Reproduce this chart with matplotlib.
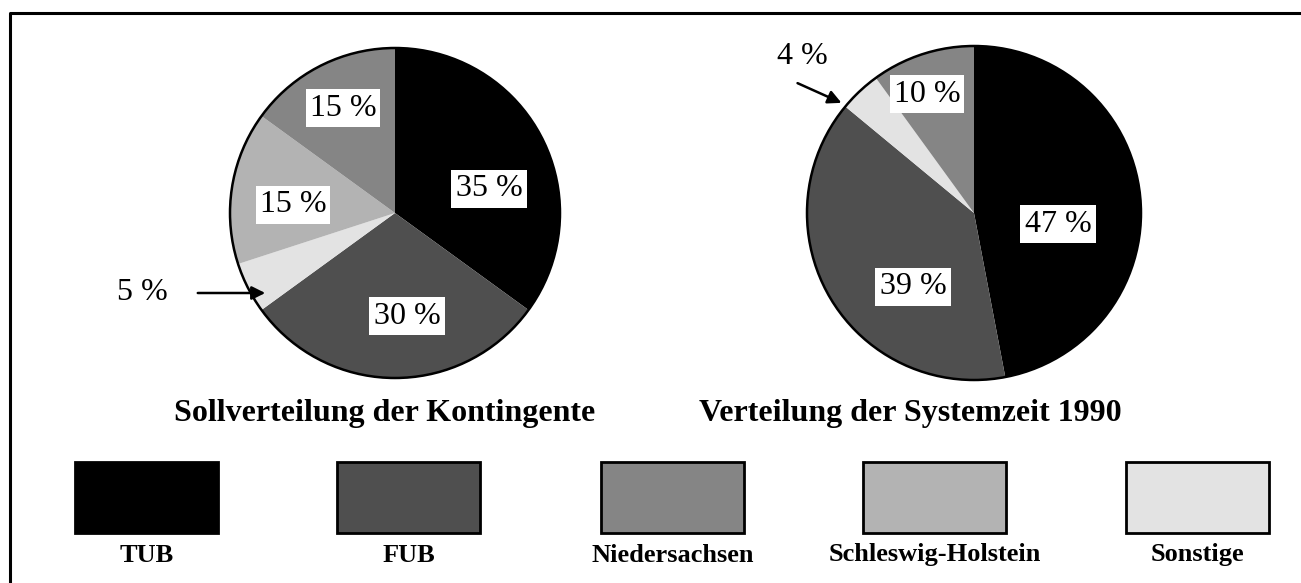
import matplotlib
matplotlib.use('Agg')
import matplotlib.pyplot as plt
from matplotlib.patches import Rectangle

plt.rcParams['font.family'] = ['Liberation Serif', 'DejaVu Serif']

categories = ['TUB', 'FUB', 'Niedersachsen', 'Schleswig-Holstein', 'Sonstige']
colors = ['#000000', '#4f4f4f', '#858585', '#b3b3b3', '#e3e3e3']

# clockwise from 12 o'clock, in the order drawn
soll_order = ['TUB', 'FUB', 'Sonstige', 'Schleswig-Holstein', 'Niedersachsen']
soll_values = [35, 30, 5, 15, 15]
ist_order = ['TUB', 'FUB', 'Sonstige', 'Niedersachsen']
ist_values = [47, 39, 4, 10]

title_soll = 'Sollverteilung der Kontingente'
title_ist = 'Verteilung der Systemzeit 1990'

W, H = 1301, 583
fig = plt.figure(figsize=(W / 100, H / 100), dpi=100)
ax = fig.add_axes([0, 0, 1, 1])

cmap = dict(zip(categories, colors))


def draw_pie(order, values, center, radius, label_pos):
    ax.pie(values, colors=[cmap[c] for c in order], startangle=90,
           counterclock=False, center=center, radius=radius,
           wedgeprops=dict(edgecolor='none'), frame=True)
    ax.add_patch(plt.Circle(center, radius, fill=False, lw=1.8, ec='black'))
    for v, pos in zip(values, label_pos):
        if pos is None:
            continue
        ax.text(pos[0], H - pos[1], f'{v} %', ha='center', va='center', fontsize=23,
                bbox=dict(facecolor='white', edgecolor='none', pad=3))


# left pie
draw_pie(soll_order, soll_values, (395, H - 213), 165,
         [(489, 189), (407, 316), None, (293, 205), (343, 108)])
ax.text(142, H - 292, f'{soll_values[2]} %', ha='center', va='center', fontsize=23)
ax.annotate('', xy=(268, H - 293), xytext=(195, H - 293),
            arrowprops=dict(arrowstyle='-|>', color='black', lw=1.8, mutation_scale=20))

# right pie
draw_pie(ist_order, ist_values, (974, H - 213), 167,
         [(1058, 224), (913, 287), None, (927, 94)])
ax.text(802, H - 57, f'{ist_values[2]} %', ha='center', va='center', fontsize=23)
ax.annotate('', xy=(844, H - 104), xytext=(795, H - 82),
            arrowprops=dict(arrowstyle='-|>', color='black', lw=1.8, mutation_scale=20))

ax.set_xlim(0, W)
ax.set_ylim(0, H)
ax.set_aspect('equal')
ax.axis('off')

ax.text(385, H - 413, title_soll, ha='center', va='center', fontsize=23, fontweight='bold')
ax.text(910, H - 413, title_ist, ha='center', va='center', fontsize=23, fontweight='bold')

# legend boxes
box_left = [75, 337, 601, 863, 1126]
for x0, cat in zip(box_left, categories):
    ax.add_patch(Rectangle((x0, H - 533), 143, 71, facecolor=cmap[cat],
                           edgecolor='black', lw=2))
    ax.text(x0 + 71.5, H - 555, cat, ha='center', va='center', fontsize=19,
            fontweight='bold')

# frame (top and left edge visible)
ax.plot([10, 10, W], [0, H - 13, H - 13], color='black', lw=2.2)

fig.savefig('out.png', dpi=100)
